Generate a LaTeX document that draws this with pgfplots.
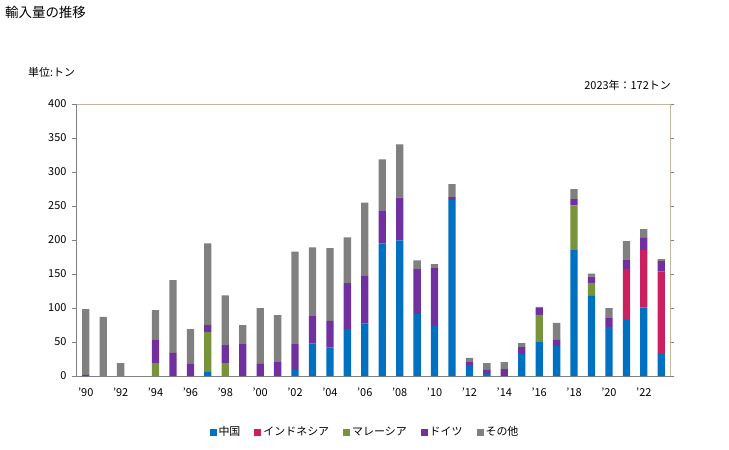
\documentclass[border=0pt]{standalone}
\usepackage{fontspec}
\setmainfont{Noto Sans CJK JP}
\usepackage{pgfplots}
\pgfplotsset{compat=1.18}
\usepackage{pgfplotstable}
\definecolor{cChina}{HTML}{0070C0}
\definecolor{cIndo}{HTML}{CC1F60}
\definecolor{cMal}{HTML}{77933C}
\definecolor{cGer}{HTML}{7030A0}
\definecolor{cOth}{HTML}{808080}
\definecolor{cFrame}{HTML}{C0B89C}
\pgfplotstableread{
year china indo mal ger oth
1990 0 0 0 1.5 97
1991 0 0 0 0 87
1992 0 0 0 0 19
1993 0 0 0 0 0
1994 0 0 19 35 43
1995 0 0 0 34 107
1996 0 0 0 18 51
1997 6 0 58.5 10.5 120
1998 0 0 19 26.5 73
1999 0 0 0 47 28
2000 0 0 0 18 82
2001 0 0 0 20.5 69
2002 9 0 0 38 136
2003 48 0 0 40 101
2004 42 0 0 39 107
2005 69 0 0 67.5 67.5
2006 77 0 0 71 107
2007 195 0 0 48.5 75
2008 199.5 0 0 63 78
2009 91 0 0 66 13
2010 73.5 0 0 85 6
2011 259 0 0 4 19
2012 16 0 0 4.5 6
2013 3 0 0 6 10
2014 0 0 0 10 10.5
2015 32 0 0 10.5 6
2016 50 0 40 10 1.5
2017 44 0 0 9 25
2018 185 0 66 9 15
2019 118 0 19 9 4.5
2020 72 0 0 13 15
2021 84 73.5 0 13 28
2022 101 84 0 18 13
2023 32 122 0 15 3
}\datatable
\begin{document}
\begin{tikzpicture}
\path[use as bounding box] (0bp,0bp) rectangle (729bp,450bp);
\node[anchor=west,inner sep=0pt,font=\fontsize{13.5}{15}\selectfont] at (5bp,438bp) {輸入量の推移};
\node[anchor=west,inner sep=0pt,font=\fontsize{11}{13}\selectfont] at (28bp,378bp) {単位:トン};
\node[anchor=east,inner sep=0pt,font=\fontsize{11}{13}\selectfont] at (671bp,365bp) {2023年：172トン};
\begin{axis}[
  at={(76bp,74bp)}, anchor=south west,
  scale only axis, width=594bp, height=272bp,
  ybar stacked, bar width=7.3bp,
  xmin=1989.44, xmax=2023.5,
  ymin=0, ymax=400,
  ytick={0,50,...,400},
  xtick={1990,1992,...,2022},
  xticklabels={'90,'92,'94,'96,'98,'00,'02,'04,'06,'08,'10,'12,'14,'16,'18,'20,'22},
  /pgf/number format/assume math mode=true,
  ticklabel style={font=\fontsize{11}{13}\selectfont},
  axis line style={draw=none},
  x tick style={draw=none},
  y tick style={draw=cOth, line width=0.8pt},
  tick align=outside,
  major tick length=4bp,
  yticklabel style={xshift=-2bp},
  xticklabel style={yshift=-4bp},
  clip=false,
  legend columns=5,
  legend style={draw=none, at={(0.4865,-0.206)}, anchor=center,
    font=\fontsize{11}{13}\selectfont, /tikz/every even column/.append style={column sep=12bp}},
  legend image code/.code={\fill[#1] (0bp,-3.5bp) rectangle (7bp,3.5bp);},
  legend cell align=left,
]
\addplot[fill=cChina, draw=none] table[x=year,y=china] {\datatable};
\addplot[fill=cIndo, draw=none] table[x=year,y=indo] {\datatable};
\addplot[fill=cMal, draw=none] table[x=year,y=mal] {\datatable};
\addplot[fill=cGer, draw=none] table[x=year,y=ger] {\datatable};
\addplot[fill=cOth, draw=none] table[x=year,y=oth] {\datatable};
\legend{中国,インドネシア,マレーシア,ドイツ,その他}
\draw[cOth, line width=0.8pt] (rel axis cs:0,1) -- (rel axis cs:0,0) -- (rel axis cs:1,0);
\draw[cFrame, line width=0.8pt] (rel axis cs:0,1) -- (rel axis cs:1,1) -- (rel axis cs:1,0);
\end{axis}
\end{tikzpicture}
\end{document}
